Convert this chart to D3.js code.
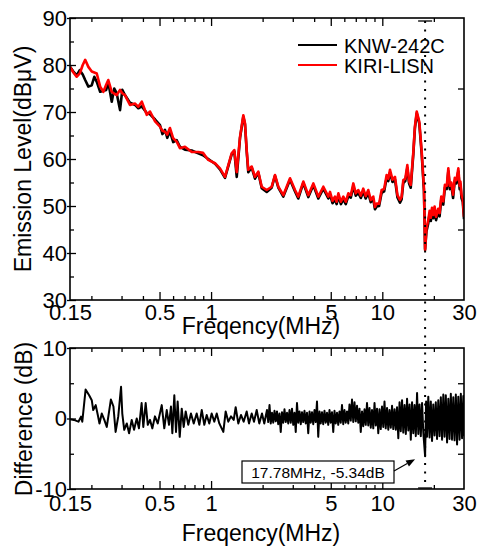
<!DOCTYPE html>
<html>
<head>
<meta charset="utf-8">
<script src="https://cdn.jsdelivr.net/npm/d3@7"></script>
<style>
  body { margin: 0; background: #fff; }
  svg text { font-family: "Liberation Sans", Arial, sans-serif; fill: #000; }
</style>
</head>
<body>
<svg id="chart" width="481" height="547"></svg>
<script>
/* ================================
   DATA
================================ */

const freqTop = [
  0.150, 0.157, 0.164, 0.171, 0.178, 0.184, 0.192, 0.201, 0.208, 0.215,
  0.225, 0.235, 0.244, 0.251, 0.263, 0.272, 0.281, 0.294, 0.303, 0.314,
  0.336, 0.360, 0.376, 0.394, 0.421, 0.440, 0.471, 0.503, 0.520, 0.538,
  0.555, 0.575, 0.601, 0.630, 0.658, 0.704, 0.771, 0.842, 0.897, 0.963,
  1.054, 1.127, 1.206, 1.261, 1.319, 1.367, 1.412, 1.476, 1.543, 1.578,
  1.614, 1.649, 1.726, 1.805, 1.887, 1.976, 2.113, 2.259, 2.361, 2.470,
  2.642, 2.891, 3.092, 3.230, 3.457, 3.698, 3.956, 4.231, 4.525, 4.840,
  4.95, 5.12, 5.29, 5.41, 5.54, 5.73, 5.92, 6.12, 6.33, 6.55,
  6.77, 7.00, 7.24, 7.49, 7.74, 8.00, 8.28, 8.56, 8.86, 9.06,
  9.27, 9.58, 9.91, 10.25, 10.60, 10.84, 11.09, 11.47, 11.86, 12.26,
  12.68, 12.96, 13.26, 13.62, 14.00, 14.33, 14.66, 15.18, 15.50, 15.89,
  16.15, 16.45, 16.99, 17.51, 17.78, 18.10, 18.55, 18.90, 19.20, 19.50,
  19.85, 20.20, 20.60, 21.20, 21.60, 22.10, 22.70, 23.20, 23.80, 24.30,
  24.80, 25.30, 25.90, 26.50, 27.10, 27.80, 28.30, 28.60, 29.00, 29.50,
  30.00
];

const kiriLisn = [
  79.6, 78.4, 77.5, 78.2, 80.0, 81.1, 79.6, 78.6, 78.4, 78.2,
  75.4, 74.3, 75.8, 76.8, 74.3, 73.9, 73.6, 74.7, 74.0, 73.6,
  71.5, 71.8, 71.1, 72.2, 69.4, 70.1, 68.0, 66.9, 66.0, 65.8,
  65.2, 66.6, 64.4, 63.7, 62.3, 62.6, 61.5, 61.5, 61.3, 59.8,
  59.1, 58.0, 56.2, 58.7, 61.2, 61.9, 57.2, 64.7, 69.3, 67.6,
  61.9, 57.7, 58.4, 56.2, 57.3, 54.1, 53.4, 54.1, 56.6, 54.1,
  52.3, 55.9, 53.4, 52.0, 55.2, 52.3, 54.8, 52.0, 54.1, 52.0,
  53.0, 51.1, 52.0, 50.9, 52.7, 50.9, 52.0, 50.9, 52.7, 52.3,
  54.8, 52.7, 53.4, 52.2, 53.7, 52.1, 53.4, 51.3, 52.0, 49.8,
  50.5, 50.5, 53.4, 53.6, 56.6, 55.8, 57.7, 55.6, 56.2, 52.3,
  51.3, 51.9, 55.5, 55.8, 58.7, 55.3, 54.5, 61.5, 66.9, 70.1,
  69.1, 67.9, 61.5, 53.8, 40.6, 45.2, 47.0, 49.0, 47.5, 49.6,
  48.1, 49.9, 47.7, 49.4, 48.5, 52.0, 51.0, 54.5, 54.3, 58.0,
  54.3, 55.0, 52.4, 56.0, 55.5, 58.0, 54.3, 55.2, 52.4, 51.5,
  47.7
];

const knw242c = [
  79.6, 78.6, 77.8, 78.9, 78.0, 76.8, 75.4, 75.7, 77.5, 76.4,
  74.3, 74.5, 74.7, 76.4, 72.2, 75.0, 74.0, 70.4, 74.7, 73.6,
  72.0, 71.5, 70.8, 71.2, 69.8, 69.5, 68.4, 67.2, 65.3, 66.2,
  64.5, 65.9, 63.6, 64.0, 62.6, 62.0, 61.8, 61.2, 60.8, 60.0,
  59.0, 57.8, 56.0, 58.5, 61.0, 61.6, 56.2, 64.5, 69.0, 67.4,
  61.7, 57.2, 58.2, 55.8, 57.1, 53.8, 53.0, 53.9, 56.4, 53.9,
  52.0, 55.6, 53.1, 51.6, 54.9, 51.9, 54.4, 51.6, 53.7, 51.6,
  52.4, 50.6, 51.4, 50.4, 52.1, 50.4, 51.4, 50.4, 52.1, 51.8,
  54.2, 52.2, 52.8, 51.7, 53.1, 51.6, 52.8, 50.8, 51.4, 49.3,
  49.9, 50.0, 52.8, 53.1, 56.0, 55.3, 57.1, 55.1, 55.6, 51.8,
  50.7, 51.4, 54.9, 55.3, 58.1, 54.8, 53.9, 61.1, 66.5, 69.7,
  68.7, 67.5, 61.0, 53.2, 40.8, 44.6, 46.3, 48.4, 46.8, 49.0,
  47.4, 49.3, 47.0, 48.8, 47.8, 51.4, 50.3, 53.9, 53.6, 57.4,
  53.6, 54.4, 51.7, 55.4, 54.8, 57.4, 53.6, 54.6, 51.7, 50.9,
  47.2
];

const freqDiff = [
  0.150, 0.158, 0.168, 0.174, 0.177, 0.185, 0.194, 0.201, 0.205, 0.212,
  0.218, 0.223, 0.230, 0.238, 0.246, 0.260, 0.269, 0.277, 0.287, 0.298,
  0.303, 0.311, 0.322, 0.332, 0.344, 0.355, 0.368, 0.379, 0.393, 0.402,
  0.415, 0.427, 0.440, 0.454, 0.470, 0.488, 0.515, 0.533, 0.551, 0.568,
  0.583, 0.594, 0.610, 0.624, 0.638, 0.656, 0.674, 0.692, 0.711, 0.736,
  0.763, 0.792, 0.824, 0.854, 0.882, 0.913, 0.943, 0.976, 1.008, 1.044,
  1.079, 1.117, 1.179, 1.217, 1.261, 1.307, 1.356, 1.392, 1.442, 1.495,
  1.550, 1.614, 1.665, 1.727, 1.781, 1.847, 1.912, 1.983, 2.045,
  2.121, 2.157, 2.194, 2.231, 2.269, 2.307, 2.346, 2.386, 2.426, 2.467,
  2.509, 2.552, 2.595, 2.639, 2.684, 2.730, 2.776, 2.823, 2.871, 2.920,
  2.969, 3.019, 3.070, 3.122, 3.175, 3.229, 3.284, 3.340, 3.396, 3.454,
  3.512, 3.572, 3.632, 3.694, 3.757, 3.821, 3.885, 3.951, 4.018, 4.086,
  4.155, 4.225, 4.297, 4.370, 4.444, 4.519, 4.596, 4.674, 4.753, 4.834,
  4.916, 4.999, 5.084, 5.170, 5.258, 5.347, 5.438, 5.530, 5.624, 5.719,
  5.816, 5.915, 6.015, 6.117, 6.221, 6.326, 6.434, 6.543, 6.654, 6.767,
  6.882, 6.999, 7.117, 7.238, 7.360, 7.485, 7.612, 7.741, 7.872, 8.005,
  8.141, 8.279, 8.420, 8.563, 8.708, 8.856, 9.006, 9.159, 9.314, 9.472,
  9.632, 9.795, 9.961, 10.13, 10.30, 10.47, 10.66, 10.84, 11.02, 11.21,
  11.40, 11.59, 11.79, 11.99, 12.19, 12.40, 12.61, 12.82, 13.04, 13.26,
  13.49, 13.72, 13.95, 14.19, 14.43, 14.67, 14.92, 15.17, 15.43, 15.69,
  15.96, 16.23, 16.50, 16.78, 17.07, 17.36, 17.78, 18.02, 18.25, 18.56,
  18.88, 19.20, 19.52, 19.85, 20.19, 20.53, 20.88, 21.23, 21.60, 21.97,
  22.34, 22.72, 23.10, 23.49, 23.89, 24.30, 24.71, 25.13, 25.55, 25.98,
  26.43, 26.88, 27.33, 27.79, 28.27, 28.75, 29.23, 29.73, 30.00
];

const diffDb = [
  -0.1, -0.2, -0.45, 0.26, -0.45, 4.1, 3.3, 2.6, 1.2, 1.9,
  0.5, -0.7, 0.7, -0.2, -1.2, 2.7, 1.7, -1.9, 0.3, 4.5,
  0.7, -1.6, -0.7, -2.1, -0.2, -1.6, 0.0, -1.4, 2.2, -1.2,
  2.2, -0.9, -0.2, -1.4, 0.3, -0.7, 1.9, -1.4, 1.2, -0.9,
  1.7, -2.1, 3.3, -1.9, 2.4, -2.6, 1.4, -1.2, 1.0, -0.9,
  0.7, -0.7, 0.7, -0.9, 1.2, -0.9, 0.5, -0.7, 0.7, -0.45,
  0.7, -0.7, -1.9, 1.0, -0.45, 0.3, -0.2, 1.6, -0.7, 0.5,
  -0.45, 1.0, -0.7, 0.7, -0.45, 1.2, -0.7, 0.7, -0.7,
  1.2, -0.5, 1.9, -0.7, 0.8, -0.6, 1.1, -0.4, 1.0, -0.8,
  0.7, -1.9, 0.9, -0.6, 1.3, -0.5, 0.8, -0.7, 1.2, -0.6,
  1.4, -0.9, 0.8, -1.9, 2.2, -0.6, 1.0, -0.8, 0.9, -0.5,
  1.1, -0.7, 0.8, -2.1, 1.0, -0.6, 0.9, -0.8, 1.2, -0.5,
  2.4, -2.6, 1.0, -0.7, 0.9, -0.8, 1.1, -0.6, 0.8, -0.9,
  1.2, -0.6, 0.9, -1.9, 1.1, -0.7, 0.8, -0.9, 1.0, -0.6,
  1.9, -0.8, 1.2, -0.6, 1.0, -0.7, 2.0, -0.3, 2.7, -0.5,
  2.3, -0.4, 1.8, -0.6, 1.4, -1.9, 1.0, -1.1, 1.3, -0.9,
  2.2, -1.0, 1.5, -1.3, 1.2, -1.4, 2.2, -1.0, 1.4, -2.1,
  1.3, -1.5, 1.7, -1.2, 2.4, -1.4, 1.5, -1.6, 1.2, -1.3,
  1.8, -1.5, 1.3, -1.6, 1.6, -2.8, 2.3, -1.8, 2.6, -2.0,
  1.9, -2.2, 2.8, -1.7, 2.0, -3.0, 2.3, -2.1, 1.9, -2.5,
  3.6, -2.2, 2.0, -2.5, 2.2, -2.0, -5.34, 2.4, -2.6, 3.1,
  -2.7, 2.4, -3.2, 2.0, -2.4, 2.3, -2.9, 2.6, -2.5, 3.0,
  -3.0, 3.4, -2.6, 3.3, -3.4, 2.8, -2.9, 3.5, -3.0, 3.0,
  -3.1, 3.4, -3.7, 3.1, -3.0, 3.5, -2.8, 3.2, -2.5
];

const seriesNames = ["KNW-242C", "KIRI-LISN"];
const seriesColors = ["#000000", "#ff0000"];

const xLabelTicks = [0.15, 0.5, 1, 5, 10, 30];
const xMajorTicks = [0.5, 1, 5, 10];
const xMinorTicks = [0.2, 0.3, 0.4, 0.6, 0.7, 0.8, 0.9, 2, 3, 4, 6, 7, 8, 9, 20];

const levelTicks = [30, 40, 50, 60, 70, 80, 90];
const levelMinorTicks = [35, 45, 55, 65, 75, 85];
const levelRightTicks = [45, 60, 75];

const diffTicks = [-10, 0, 10];
const diffMinorTicks = [-5, 5];
const diffRightTicks = [-5, 5];

const markerFreq = 17.78;
const markerDiff = -5.34;
const markerText = "17.78MHz, -5.34dB";

/* ================================
   SCALES
================================ */

const svg = d3.select("#chart");
const plotLeft = 70, plotRight = 464;
const top1 = 18, bottom1 = 300;
const top2 = 348, bottom2 = 489;

const x = d3.scaleLog().domain([0.15, 30]).range([plotLeft, plotRight]);
const yLevel = d3.scaleLinear().domain([30, 90]).range([bottom1, top1]);
const yDiff = d3.scaleLinear().domain([-10, 10]).range([bottom2, top2]);

svg.append("rect").attr("width", 481).attr("height", 547).attr("fill", "#fff");

// clip paths
const defs = svg.append("defs");
defs.append("clipPath").attr("id", "clip1").append("rect")
  .attr("x", plotLeft).attr("y", top1).attr("width", plotRight - plotLeft).attr("height", bottom1 - top1);
defs.append("clipPath").attr("id", "clip2").append("rect")
  .attr("x", plotLeft).attr("y", top2).attr("width", plotRight - plotLeft).attr("height", bottom2 - top2);

/* ================================
   CURVES
================================ */

const levelLine = vals => d3.line()
  .x((d, i) => x(freqTop[i]))
  .y(d => yLevel(d))(vals);

[knw242c, kiriLisn].forEach((vals, i) => {
  svg.append("path")
    .attr("clip-path", "url(#clip1)")
    .attr("d", levelLine(vals))
    .attr("fill", "none")
    .attr("stroke", seriesColors[i])
    .attr("stroke-width", 2.6)
    .attr("stroke-linejoin", "round");
});

svg.append("path")
  .attr("clip-path", "url(#clip2)")
  .attr("d", d3.line().x((d, i) => x(freqDiff[i])).y(d => yDiff(d))(diffDb))
  .attr("fill", "none")
  .attr("stroke", "#000")
  .attr("stroke-width", 2)
  .attr("stroke-linejoin", "round");

/* ================================
   AXES
================================ */

function tickGroup(axisFn, scale, values, size, tx, ty) {
  const g = svg.append("g")
    .attr("transform", `translate(${tx},${ty})`)
    .call(axisFn(scale).tickValues(values).tickSize(size).tickFormat(""));
  g.select(".domain").remove();
  g.selectAll("line").attr("stroke", "#000").attr("stroke-width", 1.3);
  return g;
}

function labelGroup(axisFn, scale, values, pad, tx, ty) {
  const g = svg.append("g")
    .attr("transform", `translate(${tx},${ty})`)
    .call(axisFn(scale).tickValues(values).tickSize(0).tickPadding(pad).tickFormat(d => String(d)));
  g.select(".domain").remove();
  g.selectAll("line").remove();
  g.attr("font-size", null).attr("font-family", null);
  g.selectAll("text").style("font-size", "22px");
  return g;
}

function panel(y, yTop, yBottom, major, minor, rightTicks, xPad) {
  // frequency ticks, pointing inward on top and bottom edges
  tickGroup(d3.axisTop, x, xMajorTicks, 8, 0, yBottom);
  tickGroup(d3.axisTop, x, xMinorTicks, 4, 0, yBottom);
  tickGroup(d3.axisBottom, x, xMajorTicks, 8, 0, yTop);
  tickGroup(d3.axisBottom, x, xMinorTicks, 4, 0, yTop);
  labelGroup(d3.axisBottom, x, xLabelTicks, xPad, 0, yBottom);

  // value ticks: major cross the frame, minor inward
  tickGroup(d3.axisRight, y, major, 6, plotLeft, 0);
  tickGroup(d3.axisLeft, y, major, 3, plotLeft, 0);
  tickGroup(d3.axisRight, y, minor, 4, plotLeft, 0);
  tickGroup(d3.axisLeft, y, rightTicks, 6, plotRight, 0);
  labelGroup(d3.axisLeft, y, major, 3, plotLeft, 0);

  svg.append("rect")
    .attr("x", plotLeft).attr("y", yTop)
    .attr("width", plotRight - plotLeft).attr("height", yBottom - yTop)
    .attr("fill", "none").attr("stroke", "#000").attr("stroke-width", 1.6);
}

panel(yLevel, top1, bottom1, levelTicks, levelMinorTicks, levelRightTicks, 4);
panel(yDiff, top2, bottom2, diffTicks, diffMinorTicks, diffRightTicks, 6);

// axis titles
svg.append("text")
  .attr("x", 261).attr("y", 334)
  .attr("text-anchor", "middle")
  .style("font-size", "23px")
  .text("Freqency(MHz)");

svg.append("text")
  .attr("x", 261).attr("y", 541)
  .attr("text-anchor", "middle")
  .style("font-size", "23px")
  .text("Freqency(MHz)");

svg.append("text")
  .attr("transform", "translate(31,159) rotate(-90)")
  .attr("text-anchor", "middle")
  .style("font-size", "23px")
  .text("Emission Level(dBμV)");

svg.append("text")
  .attr("transform", "translate(32,419) rotate(-90)")
  .attr("text-anchor", "middle")
  .style("font-size", "23px")
  .text("Difference (dB)");

/* ================================
   LEGEND
================================ */

seriesNames.forEach((name, i) => {
  const ly = 45 + i * 20;
  svg.append("line")
    .attr("x1", 298).attr("x2", 337)
    .attr("y1", ly).attr("y2", ly)
    .attr("stroke", seriesColors[i])
    .attr("stroke-width", 2);
  svg.append("text")
    .attr("x", 344).attr("y", ly + 8)
    .style("font-size", "20px")
    .text(name);
});

/* ================================
   MARKER LINE + ANNOTATION
================================ */

const mx = x(markerFreq);

svg.append("line")
  .attr("x1", mx).attr("x2", mx)
  .attr("y1", top1 + 3).attr("y2", bottom2 - 1)
  .attr("stroke", "#000")
  .attr("stroke-width", 2)
  .attr("stroke-dasharray", "2,6.5");

[top1 + 3, bottom2 - 1].forEach(cy => {
  svg.append("line")
    .attr("x1", mx - 7).attr("x2", mx + 7)
    .attr("y1", cy).attr("y2", cy)
    .attr("stroke", "#000")
    .attr("stroke-width", 1.3);
});

const boxX = 242, boxY = 461, boxW = 152, boxH = 22;

svg.append("rect")
  .attr("x", boxX).attr("y", boxY)
  .attr("width", boxW).attr("height", boxH)
  .attr("fill", "#fff")
  .attr("stroke", "#000")
  .attr("stroke-width", 1.2);

svg.append("text")
  .attr("x", boxX + boxW / 2).attr("y", boxY + 16.5)
  .attr("text-anchor", "middle")
  .style("font-size", "15.5px")
  .text(markerText);

const tip = [mx - 10, yDiff(markerDiff) + 3];
const tail = [boxX + boxW, boxY + 10];
const ang = Math.atan2(tip[1] - tail[1], tip[0] - tail[0]);
const headLen = 9, headW = 3.5;

svg.append("line")
  .attr("x1", tail[0]).attr("y1", tail[1])
  .attr("x2", tip[0] - Math.cos(ang) * headLen).attr("y2", tip[1] - Math.sin(ang) * headLen)
  .attr("stroke", "#000")
  .attr("stroke-width", 1.2);

const bx = tip[0] - Math.cos(ang) * headLen, by = tip[1] - Math.sin(ang) * headLen;
svg.append("polygon")
  .attr("points", [
    tip,
    [bx + Math.sin(ang) * headW, by - Math.cos(ang) * headW],
    [bx - Math.sin(ang) * headW, by + Math.cos(ang) * headW]
  ].map(p => p.join(",")).join(" "))
  .attr("fill", "#000");
</script>
</body>
</html>
